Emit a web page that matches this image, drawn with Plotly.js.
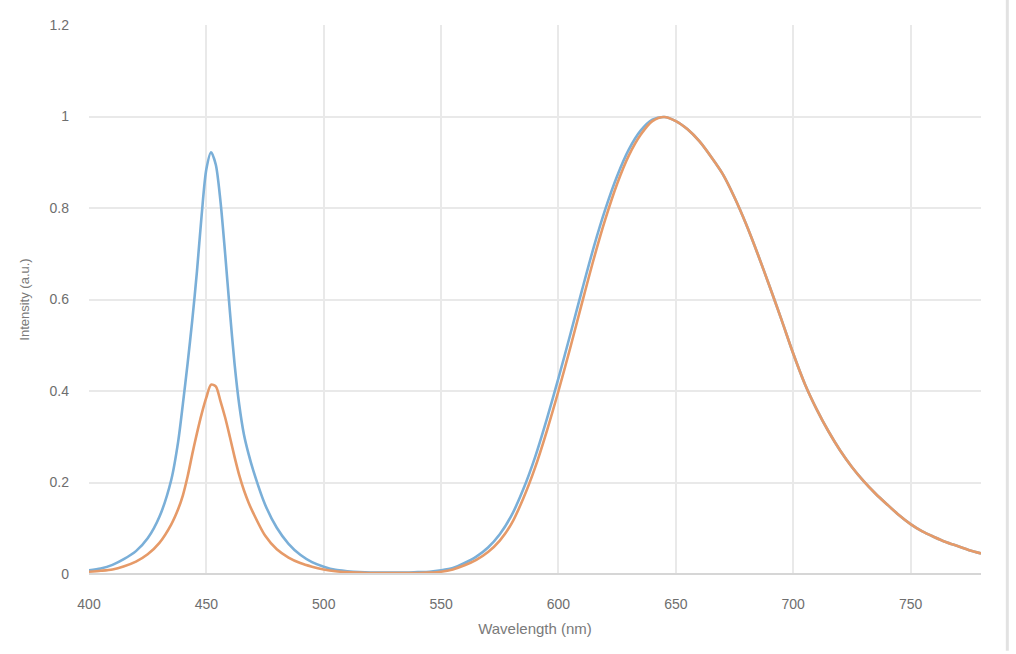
<!DOCTYPE html>
<html>
<head>
<meta charset="utf-8">
<script src="https://cdn.plot.ly/plotly-3.0.1.min.js"></script>
<style>html,body{margin:0;padding:0;background:#fff;}#chart{width:1016px;height:654px;}</style>
</head>
<body>
<div id="chart"></div>
<script>
// Wavelength (nm)
const wavelength = [400,405,410,415,420,425,430,435,438,440,442,444,446,448,450,452,454,456,458,460,462,464,466,468,470,475,480,485,490,495,500,505,510,515,520,525,530,535,540,545,550,555,560,565,570,575,580,585,590,595,600,605,610,615,620,625,630,635,640,645,650,655,660,665,670,675,680,685,690,695,700,705,710,715,720,725,730,735,740,745,750,755,760,765,770,775,780];

// Series 1 (blue)
const seriesBlue = [0.008,0.012,0.020,0.033,0.050,0.078,0.125,0.205,0.290,0.372,0.460,0.555,0.662,0.785,0.885,0.922,0.895,0.815,0.700,0.575,0.460,0.370,0.305,0.262,0.226,0.152,0.101,0.066,0.042,0.026,0.016,0.009,0.006,0.004,0.003,0.003,0.003,0.003,0.004,0.005,0.008,0.013,0.024,0.038,0.058,0.087,0.128,0.185,0.255,0.338,0.428,0.523,0.620,0.714,0.798,0.870,0.928,0.969,0.993,0.999,0.990,0.972,0.946,0.912,0.874,0.823,0.764,0.698,0.628,0.556,0.482,0.415,0.360,0.312,0.270,0.234,0.203,0.176,0.152,0.129,0.109,0.093,0.081,0.070,0.061,0.052,0.045];

// Series 2 (orange)
const seriesOrange = [0.005,0.007,0.010,0.017,0.027,0.043,0.068,0.108,0.142,0.172,0.213,0.262,0.308,0.350,0.386,0.414,0.410,0.378,0.342,0.300,0.256,0.216,0.183,0.156,0.133,0.084,0.054,0.036,0.024,0.016,0.010,0.006,0.004,0.003,0.002,0.002,0.002,0.002,0.002,0.003,0.005,0.010,0.019,0.031,0.048,0.073,0.110,0.165,0.232,0.312,0.400,0.494,0.592,0.688,0.776,0.853,0.915,0.960,0.990,0.999,0.990,0.972,0.946,0.912,0.874,0.823,0.764,0.698,0.628,0.556,0.482,0.415,0.360,0.312,0.270,0.234,0.203,0.176,0.152,0.129,0.109,0.093,0.081,0.070,0.061,0.052,0.045];

const xTicks = [400,450,500,550,600,650,700,750];
const yTicks = [0,0.2,0.4,0.6,0.8,1,1.2];

const traces = [
  {x: wavelength, y: seriesBlue, type: 'scatter', mode: 'lines', name: 'Series 1',
   line: {color: '#7aafd8', width: 2.6, shape: 'spline', smoothing: 0.8}},
  {x: wavelength, y: seriesOrange, type: 'scatter', mode: 'lines', name: 'Series 2',
   line: {color: '#e69a68', width: 2.6, shape: 'spline', smoothing: 0.8}}
];

const layout = {
  width: 1016, height: 654,
  paper_bgcolor: '#ffffff', plot_bgcolor: '#ffffff',
  margin: {l: 88.6, r: 35, t: 25, b: 80},
  showlegend: false,
  font: {family: 'Liberation Sans, Arial, sans-serif', color: '#707070', size: 14},
  xaxis: {
    range: [400, 780], tickvals: xTicks, ticktext: xTicks.map(String),
    showgrid: true, gridcolor: '#e9e9e9', gridwidth: 2,
    zeroline: false, showline: false, ticks: '',
    tickfont: {size: 14, color: '#6e6e6e'},
    ticklabelstandoff: 20,
    title: {text: 'Wavelength (nm)', font: {size: 15, color: '#7a7a7a'}, standoff: 12}
  },
  yaxis: {
    range: [0, 1.2], tickvals: yTicks,
    showgrid: true, gridcolor: '#e9e9e9', gridwidth: 2,
    zeroline: false, showline: false, ticks: '',
    tickfont: {size: 14, color: '#6e6e6e'},
    ticklabelstandoff: 19,
    title: {text: 'Intensity (a.u.)', font: {size: 13, color: '#7a7a7a'}, standoff: 16}
  },
  shapes: [
    {type: 'line', xref: 'paper', yref: 'paper', x0: 0, x1: 1, y0: 0, y1: 0,
     line: {color: '#d6d6d6', width: 2}},
    {type: 'line', xref: 'paper', yref: 'paper', x0: 1.0295, x1: 1.0295, y0: -0.14, y1: 1.05,
     line: {color: '#e2e2e2', width: 3}}
  ]
};

Plotly.newPlot('chart', traces, layout, {displayModeBar: false, staticPlot: true});
</script>
</body>
</html>
